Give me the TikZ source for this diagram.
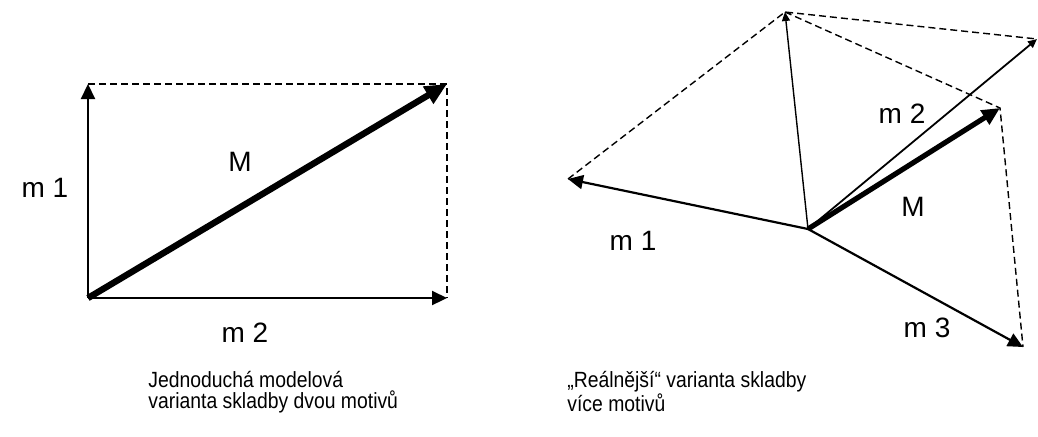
\documentclass[tikz,border=0pt]{standalone}
\usepackage{fontspec}
\setmainfont{Liberation Sans}
\newfontfamily\capfont[FakeStretch=0.88]{Liberation Sans}
\usetikzlibrary{arrows.meta}

\begin{document}
\begin{tikzpicture}[x=0.5pt,y=-0.5pt,
 lbl/.style={font=\fontsize{14}{16}\selectfont,inner sep=0pt},
 caption/.style={font=\capfont\fontsize{11}{10.6}\selectfont,align=left,anchor=north west,inner sep=0pt},
 vec/.style={line width=1.1pt,-{Triangle[length=7.5pt,width=7pt]}},
 thinvec/.style={line width=0.7pt,-{Triangle[length=4.5pt,width=4pt]}},
 sumvec/.style={line width=3.2pt,-{Triangle[length=11pt,width=9.5pt]}},
 aux/.style={line width=0.7pt,dash pattern=on 3.5pt off 2pt}]
 \useasboundingbox (0,0) rectangle (1038,436);
 % simple model: two motifs
 \coordinate (o1) at (88,298);
 \coordinate (a1) at (88,84);
 \coordinate (a2) at (447,298);
 \coordinate (sa) at (447,84);
 \draw[aux] (a1)--(sa)--(a2);
 \draw[vec] (o1)--(a1);
 \draw[vec] (o1)--(a2);
 \draw[sumvec] (o1)--(sa);
 \node[lbl] (la1) at (45,188) {m 1};
 \node[lbl] (la2) at (245,333) {m 2};
 \node[lbl] (lsa) at (240,162) {M};
 \node[caption] (capa) at (148,371) {Jednoduchá modelová\\varianta skladby dvou motivů};
 % more realistic: three motifs
 \coordinate (o2) at (808,229);
 \coordinate (b1) at (568,179);
 \coordinate (b12) at (785,12);
 \coordinate (b2) at (1037,39);
 \coordinate (sb) at (1000,108);
 \coordinate (b3) at (1023,347);
 \draw[aux] (b1)--(b12)--(b2) (b12)--(sb)--(b3);
 \draw[thinvec] (o2)--(b12);
 \draw[vec] (o2)--(b1);
 \draw[thinvec,line width=0.9pt] (o2)--(b2);
 \draw[vec] (o2)--(b3);
 \draw[sumvec,line width=2.6pt,-{Triangle[length=9pt,width=8pt]}] (o2)--(sb);
 \node[lbl] (lb1) at (633,241) {m 1};
 \node[lbl] (lb2) at (902,114) {m 2};
 \node[lbl] (lsb) at (913,207) {M};
 \node[lbl] (lb3) at (927,328) {m 3};
 \node[caption] (capb) at (567,371) {„Reálnější“ varianta skladby\\více motivů};
\end{tikzpicture}
\end{document}
